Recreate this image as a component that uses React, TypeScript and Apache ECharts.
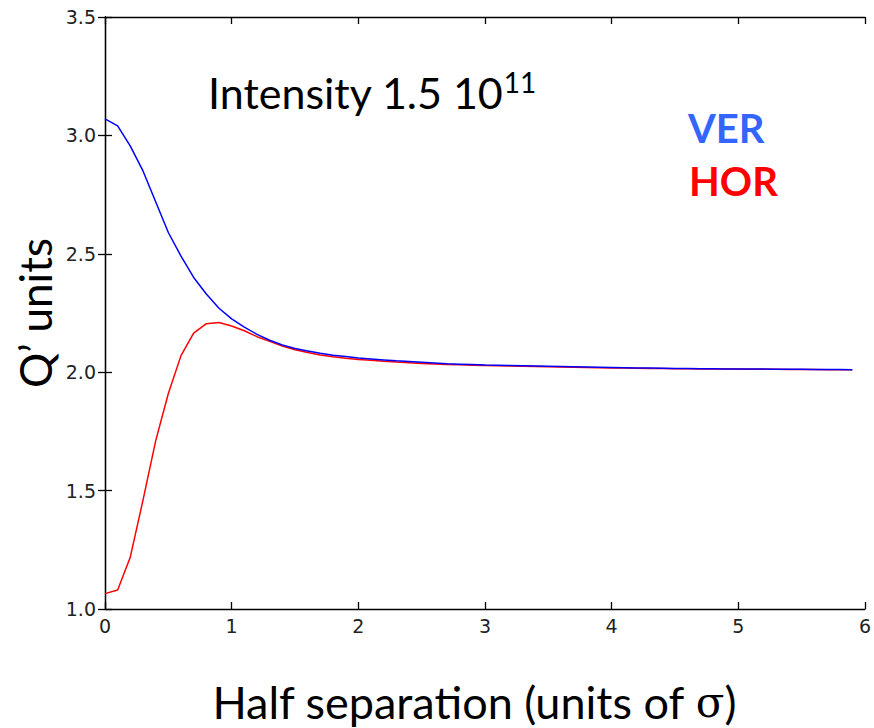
import React, { useEffect, useRef } from "react";
import * as echarts from "echarts";

const xValues = [
  0.0, 0.1, 0.2, 0.3, 0.4, 0.5, 0.6, 0.7, 0.8, 0.9,
  1.0, 1.1, 1.2, 1.3, 1.4, 1.5, 1.6, 1.7, 1.8, 1.9,
  2.0, 2.1, 2.2, 2.3, 2.4, 2.5, 2.6, 2.7, 2.8, 2.9,
  3.0, 3.1, 3.2, 3.3, 3.4, 3.5, 3.6, 3.7, 3.8, 3.9,
  4.0, 4.1, 4.2, 4.3, 4.4, 4.5, 4.6, 4.7, 4.8, 4.9,
  5.0, 5.1, 5.2, 5.3, 5.4, 5.5, 5.6, 5.7, 5.8, 5.9,
];

const verValues = [
  3.07, 3.04, 2.955, 2.85, 2.72, 2.59, 2.49, 2.4, 2.33, 2.27,
  2.225, 2.19, 2.16, 2.135, 2.115, 2.1, 2.09, 2.08, 2.072, 2.066,
  2.06, 2.056, 2.052, 2.048, 2.045, 2.042, 2.039, 2.036, 2.034, 2.032,
  2.03, 2.029, 2.028, 2.027, 2.026, 2.025, 2.024, 2.023, 2.022, 2.021,
  2.02, 2.019, 2.018, 2.018, 2.017, 2.016, 2.016, 2.015, 2.015, 2.014,
  2.014, 2.013, 2.013, 2.012, 2.012, 2.012, 2.011, 2.011, 2.011, 2.01,
];

const horValues = [
  1.065, 1.08, 1.22, 1.46, 1.71, 1.91, 2.07, 2.165, 2.205, 2.21,
  2.195, 2.175, 2.15, 2.13, 2.11, 2.095, 2.083, 2.073, 2.065, 2.059,
  2.054, 2.05, 2.046, 2.043, 2.04, 2.037, 2.035, 2.033, 2.031, 2.029,
  2.028, 2.027, 2.026, 2.025, 2.024, 2.023, 2.022, 2.021, 2.02, 2.019,
  2.018, 2.018, 2.017, 2.016, 2.016, 2.015, 2.015, 2.014, 2.014, 2.013,
  2.013, 2.012, 2.012, 2.012, 2.011, 2.011, 2.011, 2.01, 2.01, 2.01,
];

const xTicks = [0, 1, 2, 3, 4, 5, 6];
const yTickLabels = ["1.0", "1.5", "2.0", "2.5", "3.0", "3.5"];

export default function App() {
  const ref = useRef<HTMLDivElement>(null);
  useEffect(() => {
    if (!ref.current) return;
    const chart = echarts.init(ref.current, null, { renderer: "svg" });
    const tickFont = { fontFamily: "DejaVu Sans", fontSize: 19, color: "#222" };
    const lineStyle = { color: "#000", width: 1.3 };
    const titleFont = "Lato, 'Open Sans', sans-serif";
    chart.setOption({
      animation: false,
      backgroundColor: "#fff",
      grid: { left: 105, top: 17, right: 5, bottom: 119, containLabel: false },
      xAxis: [
        {
          type: "value", min: 0, max: 6, interval: 1, position: "bottom",
          axisLine: { show: true, lineStyle },
          axisTick: { show: true, inside: true, length: 7, lineStyle },
          axisLabel: { ...tickFont, margin: 7, formatter: (v: number) => (xTicks.includes(v) ? String(v) : "") },
          splitLine: { show: false },
        },
        {
          type: "value", min: 0, max: 6, interval: 1, position: "top",
          axisLine: { show: true, lineStyle },
          axisTick: { show: true, inside: true, length: 7, lineStyle },
          axisLabel: { show: false },
          splitLine: { show: false },
        },
      ],
      yAxis: [
        {
          type: "value", min: 1.0, max: 3.5, interval: 0.5, position: "left",
          axisLine: { show: true, lineStyle },
          axisTick: { show: true, inside: true, length: 7, lineStyle },
          axisLabel: { ...tickFont, margin: 9, formatter: (v: number) => yTickLabels[Math.round((v - 1) / 0.5)] ?? "" },
          splitLine: { show: false },
        },
        {
          type: "value", min: 1.0, max: 3.5, interval: 0.5, position: "right",
          axisLine: { show: true, lineStyle },
          axisTick: { show: true, inside: true, length: 7, lineStyle },
          axisLabel: { show: false },
          splitLine: { show: false },
        },
      ],
      series: [
        {
          name: "HOR", type: "line", showSymbol: false, symbol: "none",
          data: xValues.map((x, i) => [x, horValues[i]]),
          lineStyle: { color: "#ff0000", width: 1.5 },
          itemStyle: { color: "#ff0000" },
        },
        {
          name: "VER", type: "line", showSymbol: false, symbol: "none",
          data: xValues.map((x, i) => [x, verValues[i]]),
          lineStyle: { color: "#0000ff", width: 1.5 },
          itemStyle: { color: "#0000ff" },
        },
      ],
      graphic: [
        {
          type: "text", left: 208, top: 68,
          style: {
            text: "{a|Intensity 1.5 10}{s|11}",
            rich: {
              a: { fontFamily: titleFont, fontSize: 43, fill: "#000", verticalAlign: "bottom" },
              s: { fontFamily: titleFont, fontSize: 28, fill: "#000", verticalAlign: "top", padding: [0, 0, 18, 0] },
            },
          },
        },
        {
          type: "text", left: 688, top: 108,
          style: { text: "VER", fontFamily: titleFont, fontSize: 40, fontWeight: "bold", fill: "#3366ff" },
        },
        {
          type: "text", left: 689, top: 161,
          style: { text: "HOR", fontFamily: titleFont, fontSize: 40, fontWeight: "bold", fill: "#ff0000" },
        },
        {
          type: "text", x: 35, y: 313, rotation: Math.PI / 2,
          style: { text: "Q\u2019 units", fontFamily: titleFont, fontSize: 44, fill: "#000", align: "center", verticalAlign: "middle" },
        },
        {
          type: "text", x: 474, y: 702,
          style: {
            text: "{a|Half separation (units of }{g|\u03c3}{a|)}",
            align: "center", verticalAlign: "middle",
            rich: {
              a: { fontFamily: titleFont, fontSize: 45, fill: "#000" },
              g: { fontFamily: "'DejaVu Serif', 'Liberation Serif', serif", fontSize: 42, fill: "#000" },
            },
          },
        },
      ],
    });
    return () => chart.dispose();
  }, []);
  return <div ref={ref} style={{ position: "fixed", left: 0, top: 0, width: 874, height: 728 }} />;
}
